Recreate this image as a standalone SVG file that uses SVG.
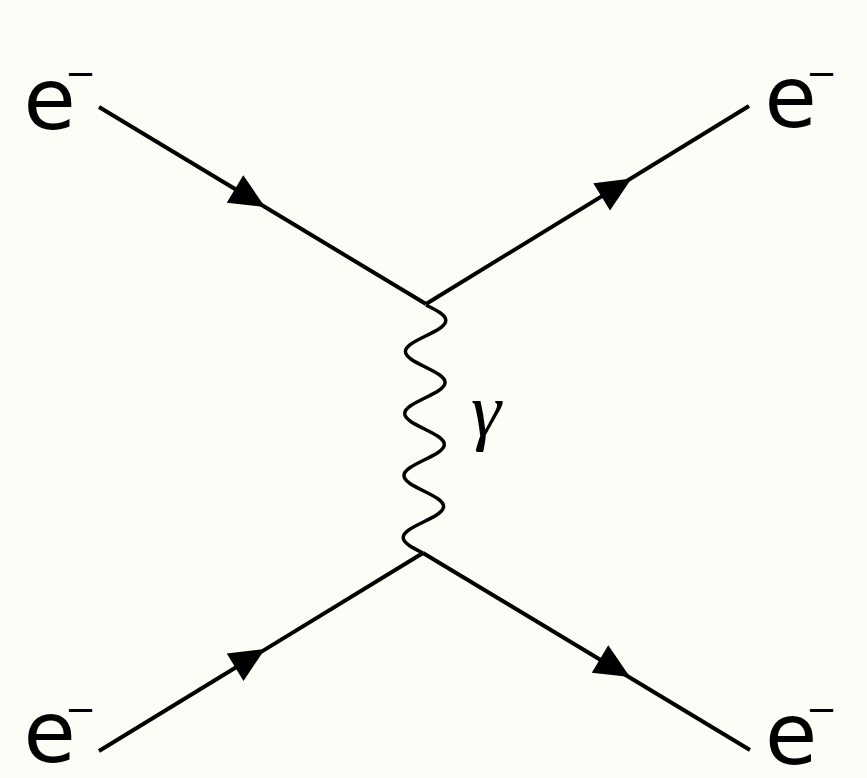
<svg xmlns="http://www.w3.org/2000/svg" xmlns:xlink="http://www.w3.org/1999/xlink" width="867" height="778" viewBox="0 0 867 778">
  <style>
    .line { stroke: #000; stroke-width: 4; fill: none; stroke-linecap: butt; }
    .wave { stroke: #000; stroke-width: 3.5; fill: none; }
    .lbl { font-family: "DejaVu Sans", sans-serif; font-size: 85px; fill: #000; }
    .sup { font-family: "DejaVu Sans", sans-serif; font-size: 37px; fill: #000; }
    .gam { font-family: "Liberation Serif", serif; font-style: italic; font-size: 76px; fill: #000; }
    .arr { fill: #000; }
  </style>
  <defs>
    <path id="arrowhead" d="M0,0 L-35,-16 L-35,16 Z"/>
  </defs>
  <rect width="867" height="778" fill="#fdfdf8"/>
  <g id="connectors">
    <line class="line" x1="99" y1="107" x2="426" y2="304"/>
    <line class="line" x1="426" y1="304" x2="749" y2="106"/>
    <line class="line" x1="99" y1="751" x2="423" y2="553"/>
    <line class="line" x1="423" y1="553" x2="750" y2="750"/>
    <use xlink:href="#arrowhead" class="arr" transform="translate(265,207) rotate(31.06)"/>
    <use xlink:href="#arrowhead" class="arr" transform="translate(631.5,178.5) rotate(-31.51)"/>
    <use xlink:href="#arrowhead" class="arr" transform="translate(265,649) rotate(-31.43)"/>
    <use xlink:href="#arrowhead" class="arr" transform="translate(630,677) rotate(31.06)"/>
    <path id="photon" class="wave" transform="translate(426,305) skewX(-0.69)" d="M0,0
      c10.25,5.05 20,9.89 20,15.5 c0,5.61 -9.75,10.45 -20,15.5 c-10.25,5.05 -20,9.89 -20,15.5 c0,5.61 9.75,10.45 20,15.5
      c10.25,5.05 20,9.89 20,15.5 c0,5.61 -9.75,10.45 -20,15.5 c-10.25,5.05 -20,9.89 -20,15.5 c0,5.61 9.75,10.45 20,15.5
      c10.25,5.05 20,9.89 20,15.5 c0,5.61 -9.75,10.45 -20,15.5 c-10.25,5.05 -20,9.89 -20,15.5 c0,5.61 9.75,10.45 20,15.5
      c10.25,5.05 20,9.89 20,15.5 c0,5.61 -9.75,10.45 -20,15.5 c-10.25,5.05 -20,9.89 -20,15.5 c0,5.61 9.75,10.45 20,15.5"/>
  </g>
  <g id="e-in-top">
    <text class="lbl" x="23.5" y="129">e</text>
    <text class="sup" x="65" y="85.5">−</text>
  </g>
  <g id="e-out-top">
    <text class="lbl" x="764.5" y="127">e</text>
    <text class="sup" x="806" y="85.5">−</text>
  </g>
  <g id="e-in-bottom">
    <text class="lbl" x="23.5" y="762">e</text>
    <text class="sup" x="65" y="721.5">−</text>
  </g>
  <g id="e-out-bottom">
    <text class="lbl" x="765" y="764">e</text>
    <text class="sup" x="806" y="721.5">−</text>
  </g>
  <g id="gamma-label">
    <text class="gam" x="471" y="436">γ</text>
  </g>
</svg>
